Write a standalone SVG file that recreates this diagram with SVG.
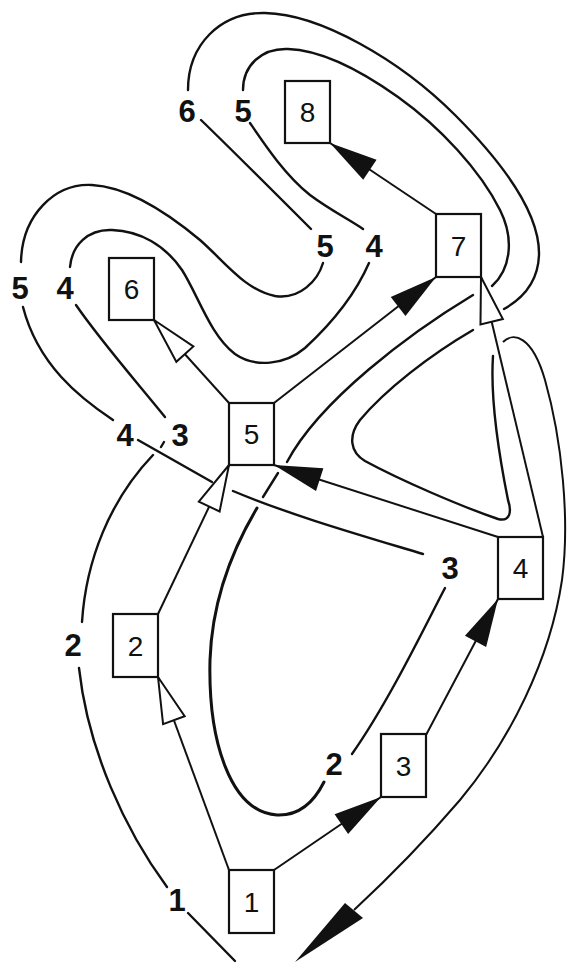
<svg xmlns="http://www.w3.org/2000/svg" width="567" height="964" viewBox="0 0 567 964">
<style>
.node rect{fill:#fff;stroke:#111;stroke-width:2.2}
.node text{font-family:"Liberation Sans",Arial,sans-serif;font-size:28px;fill:#111;text-anchor:middle}
.edge{fill:none;stroke:#111;stroke-width:2}
.filled{marker-end:url(#fa)}
.open{marker-end:url(#oa)}
.contour path{fill:none;stroke:#111;stroke-width:2.4;stroke-linecap:round}
.lbl{font-family:"Liberation Sans",Arial,sans-serif;font-size:31px;font-weight:bold;fill:#111;text-anchor:middle}
</style>
<defs>
<marker id="fa" markerUnits="userSpaceOnUse" viewBox="-2 -2 52 28" markerWidth="52" markerHeight="28" refX="48" refY="12" orient="auto">
<path d="M0,0 L48,12 L0,24 Z" fill="#111"/>
</marker>
<marker id="oa" markerUnits="userSpaceOnUse" viewBox="-2 -2 52 28" markerWidth="52" markerHeight="28" refX="47" refY="12" orient="auto">
<path d="M1,0.5 L47,12 L1,23.5 Z" fill="#fff" stroke="#111" stroke-width="2"/>
</marker>
</defs>
<rect width="567" height="964" fill="#fff"/>

<g id="contours" class="contour">
<path d="M235,961 L188,913"/>
<path d="M167,887 C125,830 88,750 79,668"/>
<path d="M82,622 C86,560 110,500 153,455"/>
<path d="M161,447 L164,442"/>
<path d="M165,417 C135,380 100,340 76,305"/>
<path d="M70,267 C72,245 88,229 112,230 C140,231 165,245 182,270 C198,295 210,335 235,354 C255,368 285,365 305,348 C330,325 355,295 369,263"/>
<path d="M363,229 C350,220 330,210 310,195 C285,175 265,145 250,123"/>
<path d="M243,90 C243,65 262,48 288,49 C320,50 360,70 398,97 C440,127 480,170 500,210 C515,240 510,270 492,286"/>
<path d="M473,295 C410,333 320,400 287,462"/>
<path d="M278,473 L263,497"/>
<path d="M257,508 C232,550 212,600 210,660 C208,740 230,812 277,815 C300,816 315,800 324,782" style="stroke-width:3"/>
<path d="M445,588 C428,620 390,700 352,754"/>
<path d="M423,554 C360,535 290,515 233,491"/>
<path d="M212,482 L138,440"/>
<path d="M113,420 C80,398 38,365 23,307"/>
<path d="M21,262 C22,215 55,183 92,185 C130,187 170,215 200,240 C225,262 245,290 275,296 C300,300 318,280 323,263"/>
<path d="M311,229 C280,198 230,148 201,120"/>
<path d="M188,90 C188,45 220,12 265,13 C320,14 400,60 455,115 C505,165 540,215 539,255 C538,285 520,300 504,309"/>
<path d="M473,330 C430,355 385,390 360,420 C348,436 350,452 365,461 C400,480 460,506 498,519 C510,522 512,512 508,500 C500,460 490,400 493,356"/>
</g>

<g id="connectors">
<line class="edge open" x1="229" y1="870" x2="158" y2="677"/>
<line class="edge filled" x1="274" y1="870" x2="381" y2="797"/>
<line class="edge filled" x1="426" y1="735" x2="498" y2="599"/>
<line class="edge open" x1="158" y1="614" x2="229" y2="465"/>
<line class="edge filled" x1="498" y1="537" x2="274" y2="465"/>
<line class="edge open" x1="543" y1="537" x2="481" y2="277"/>
<line class="edge open" x1="229" y1="403" x2="154" y2="320"/>
<line class="edge filled" x1="274" y1="403" x2="436" y2="277"/>
<line class="edge filled" x1="436" y1="214" x2="330" y2="143"/>
<path class="edge" d="M503,342 C513,332 532,335 545,380 C562,440 570,520 562,580 C550,660 510,740 460,800 C430,835 395,872 354,910"/>
<polygon points="295,962 345,903 363,918" fill="#111"/>
</g>

<g id="n1" class="node"><rect x="229" y="870" width="45" height="63"/><text x="251.5" y="911.5">1</text></g>
<g id="n2" class="node"><rect x="113" y="614" width="45" height="63"/><text x="135.5" y="655.5">2</text></g>
<g id="n3" class="node"><rect x="381" y="734" width="45" height="63"/><text x="403.5" y="775.5">3</text></g>
<g id="n4" class="node"><rect x="498" y="537" width="45" height="62"/><text x="520.5" y="578">4</text></g>
<g id="n5" class="node"><rect x="229" y="403" width="45" height="62"/><text x="251.5" y="444">5</text></g>
<g id="n6" class="node"><rect x="109" y="258" width="45" height="62"/><text x="131.5" y="299">6</text></g>
<g id="n7" class="node"><rect x="436" y="214" width="45" height="63"/><text x="458.5" y="255.5">7</text></g>
<g id="n8" class="node"><rect x="285" y="81" width="45" height="62"/><text x="307.5" y="122">8</text></g>

<g id="labels">
<text class="lbl" x="187" y="122">6</text>
<text class="lbl" x="243" y="122">5</text>
<text class="lbl" x="325" y="257">5</text>
<text class="lbl" x="374" y="257">4</text>
<text class="lbl" x="20" y="299">5</text>
<text class="lbl" x="65" y="299">4</text>
<text class="lbl" x="125" y="446">4</text>
<text class="lbl" x="180" y="446">3</text>
<text class="lbl" x="450" y="579">3</text>
<text class="lbl" x="73" y="656">2</text>
<text class="lbl" x="334" y="775">2</text>
<text class="lbl" x="177" y="911">1</text>
</g>
</svg>
